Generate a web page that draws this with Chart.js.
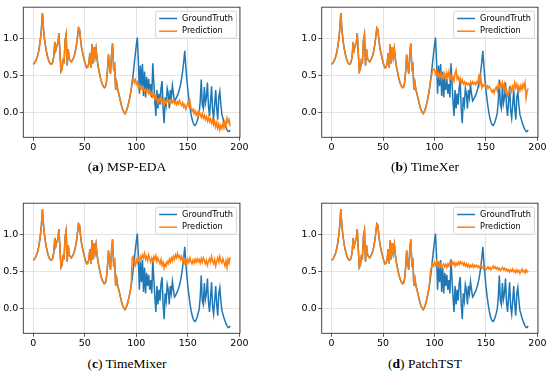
<!DOCTYPE html>
<html><head><meta charset="utf-8">
<script src="https://cdn.jsdelivr.net/npm/chart.js@4.4.1/dist/chart.umd.min.js"></script>
<style>
html,body{margin:0;padding:0;background:#fff;}
#wrap{position:relative;width:550px;height:374px;overflow:hidden;}
canvas{position:absolute;}
.cap{position:absolute;font-family:"Liberation Serif","Times New Roman",serif;font-size:13.5px;color:#000;white-space:nowrap;transform:translate(-50%,-50%);}
</style></head><body>
<div id="wrap">
<canvas id="ca" width="250" height="160" style="left:0;top:0"></canvas>
<canvas id="cb" width="250" height="160" style="left:298px;top:0"></canvas>
<canvas id="cc" width="250" height="160" style="left:0;top:196px"></canvas>
<canvas id="cd" width="250" height="160" style="left:298px;top:196px"></canvas>
<div class="cap" style="left:127px;top:167px">(<b>a</b>) MSP-EDA</div>
<div class="cap" style="left:425px;top:167px">(<b>b</b>) TimeXer</div>
<div class="cap" style="left:127px;top:364px">(<b>c</b>) TimeMixer</div>
<div class="cap" style="left:425px;top:364px">(<b>d</b>) PatchTST</div>
</div>
<script>
// ---- data ----
const seriesLabels = ['GroundTruth', 'Prediction'];
const panelTitles = ['MSP-EDA', 'TimeXer', 'TimeMixer', 'PatchTST'];
const xTicks = [0, 50, 100, 150, 200];
const yTicks = [0.0, 0.5, 1.0];
const historyLength = 96;

// ground truth, t = 0..191
const groundTruth = [
 0.65,0.66,0.68,0.71,0.75,0.80,0.88,0.98,1.12,1.34,
 1.13,0.99,0.89,0.81,0.75,0.70,0.67,0.65,0.65,0.68,
 0.75,0.95,0.84,0.90,0.93,1.07,0.80,0.55,0.58,0.70,
 0.68,0.97,1.05,0.63,0.85,0.72,0.70,0.68,0.70,0.73,
 0.77,0.83,0.91,1.02,1.14,1.12,0.98,0.87,0.80,0.74,
 0.68,0.63,0.60,0.61,0.66,0.80,0.60,0.92,0.66,0.88,
 0.75,0.86,0.72,0.62,0.55,0.48,0.42,0.38,0.35,0.33,
 0.34,0.40,0.55,0.78,0.62,0.52,0.78,0.93,0.60,0.64,
 0.30,0.40,0.30,0.25,0.19,0.13,0.07,0.03,0.00,-0.02,
 0.00,0.04,0.09,0.15,0.22,0.30,
 0.40,0.52,0.65,0.78,0.90,1.01,0.70,0.25,0.63,0.35,
 0.65,0.22,0.55,0.20,0.48,0.30,0.45,0.25,0.38,0.20,
 0.66,0.40,0.15,-0.05,0.30,0.05,0.25,0.10,0.33,0.42,
 0.05,-0.15,0.20,0.10,0.32,0.25,0.05,0.30,0.20,0.36,
 0.25,0.15,0.17,0.20,0.23,0.27,0.32,0.38,0.46,0.56,
 0.68,0.83,0.62,0.45,0.30,0.18,0.07,-0.02,-0.09,-0.14,
 -0.17,-0.18,-0.16,-0.12,-0.07,-0.01,0.15,0.44,0.10,0.05,
 0.34,0.12,0.20,0.40,0.08,-0.05,0.15,0.35,0.02,-0.08,
 0.10,0.30,0.05,-0.10,0.20,0.28,0.10,-0.03,-0.08,-0.13,
 -0.17,-0.21,-0.24,-0.26,-0.26,-0.24
];

// forecasts for t = 96..191
const predMSPEDA = [
 0.43,0.46,0.40,0.44,0.38,0.41,0.33,0.36,0.31,0.34,0.30,0.33,0.28,0.31,0.27,0.30,
 0.25,0.29,0.23,0.26,0.21,0.25,0.19,0.22,0.17,0.12,0.18,0.15,0.20,0.13,0.17,0.10,
 0.15,0.12,0.18,0.14,0.16,0.11,0.15,0.13,0.17,0.12,0.15,0.10,0.14,0.11,0.16,0.12,
 0.09,0.13,0.07,0.10,0.04,0.08,0.13,0.09,0.15,0.06,0.01,0.04,-0.02,0.02,-0.04,0.00,
 -0.05,0.01,-0.03,-0.07,-0.02,-0.08,-0.04,-0.10,-0.06,-0.12,-0.07,-0.13,-0.09,-0.15,-0.10,-0.17,
 -0.12,-0.20,-0.14,-0.22,-0.16,-0.24,-0.18,-0.22,-0.15,-0.21,-0.13,-0.18,-0.08,-0.14,-0.10,-0.19
];
const predTimeXer = [
 0.42,0.48,0.55,0.58,0.58,0.52,0.56,0.48,0.53,0.47,0.52,0.45,0.50,0.46,0.52,0.44,
 0.53,0.47,0.55,0.45,0.50,0.44,0.48,0.42,0.52,0.57,0.45,0.48,0.42,0.46,0.40,0.44,
 0.38,0.41,0.37,0.40,0.37,0.39,0.36,0.40,0.37,0.41,0.38,0.40,0.37,0.41,0.39,0.47,
 0.38,0.48,0.33,0.37,0.35,0.38,0.34,0.36,0.32,0.35,0.33,0.30,0.27,0.30,0.26,0.31,
 0.34,0.29,0.37,0.33,0.39,0.34,0.40,0.31,0.38,0.27,0.30,0.22,0.26,0.30,0.34,0.28,
 0.35,0.31,0.40,0.33,0.38,0.30,0.35,0.29,0.36,0.31,0.38,0.33,0.40,0.19,0.28,0.32
];
const predTimeMixer = [
 0.68,0.70,0.62,0.58,0.66,0.61,0.67,0.63,0.70,0.66,0.72,0.68,0.74,0.66,0.70,0.64,
 0.72,0.67,0.62,0.68,0.64,0.70,0.66,0.71,0.63,0.68,0.64,0.60,0.66,0.58,0.62,0.54,
 0.60,0.57,0.63,0.60,0.66,0.62,0.68,0.64,0.70,0.66,0.72,0.68,0.74,0.69,0.71,0.66,
 0.70,0.63,0.67,0.61,0.65,0.60,0.66,0.62,0.68,0.63,0.60,0.65,0.61,0.66,0.62,0.67,
 0.63,0.66,0.61,0.67,0.62,0.68,0.64,0.60,0.65,0.58,0.63,0.67,0.62,0.70,0.64,0.60,
 0.66,0.57,0.63,0.68,0.62,0.70,0.64,0.61,0.67,0.62,0.57,0.64,0.55,0.66,0.61,0.69
];
const predPatchTST = [
 0.48,0.55,0.60,0.57,0.62,0.58,0.63,0.56,0.60,0.55,0.59,0.54,0.58,0.60,0.56,0.59,
 0.55,0.60,0.57,0.62,0.58,0.63,0.59,0.62,0.57,0.61,0.58,0.62,0.59,0.63,0.60,0.62,
 0.58,0.61,0.57,0.60,0.56,0.59,0.55,0.58,0.56,0.59,0.55,0.58,0.56,0.58,0.55,0.57,
 0.55,0.58,0.54,0.56,0.53,0.55,0.52,0.54,0.56,0.53,0.55,0.52,0.54,0.57,0.54,0.56,
 0.53,0.55,0.52,0.54,0.51,0.53,0.55,0.52,0.54,0.51,0.53,0.50,0.52,0.49,0.52,0.50,
 0.53,0.49,0.51,0.48,0.52,0.49,0.51,0.47,0.50,0.53,0.49,0.51,0.48,0.52,0.49,0.51
];

// ---- build ----
const forecasts = [predMSPEDA, predTimeXer, predTimeMixer, predPatchTST];
const canvases = ['ca', 'cb', 'cc', 'cd'];
const toPoints = arr => arr.map((v, i) => ({x: i, y: v}));

const allVals = groundTruth.concat(...forecasts);
const dMin = Math.min(...allVals), dMax = Math.max(...allVals);
const yMin = dMin - 0.05 * (dMax - dMin), yMax = dMax + 0.05 * (dMax - dMin);
const xMin = -0.05 * (groundTruth.length - 1), xMax = (groundTruth.length - 1) * 1.05;

const BLUE = '#1f77b4', ORANGE = '#ff7f0e';
const tickFont = {family: 'DejaVu Sans', size: 9.5};

const framePlugin = {
  id: 'frame',
  afterDraw(chart) {
    const {ctx, chartArea: a} = chart;
    ctx.save();
    ctx.strokeStyle = '#333';
    ctx.lineWidth = 0.9;
    ctx.strokeRect(a.left, a.top, a.right - a.left, a.bottom - a.top);
    // legend inside upper right
    const fs = 8.2;
    ctx.font = fs + 'px "DejaVu Sans"';
    const ds = chart.data.datasets;
    const tw = Math.max(...ds.map(d => ctx.measureText(d.label).width));
    const rowH = 12.7, padX = 3.5, lineLen = 18, gap = 5;
    const w = padX + lineLen + gap + tw + padX;
    const h = ds.length * rowH + 1.6;
    const x0 = a.right - 3.5 - w, y0 = a.top + 4;
    ctx.fillStyle = 'rgba(255,255,255,0.85)';
    ctx.strokeStyle = '#cccccc';
    ctx.lineWidth = 0.8;
    ctx.beginPath();
    if (ctx.roundRect) ctx.roundRect(x0, y0, w, h, 2); else ctx.rect(x0, y0, w, h);
    ctx.fill(); ctx.stroke();
    ds.forEach((d, i) => {
      const cy = y0 + 7.3 + i * rowH;
      ctx.strokeStyle = d.borderColor;
      ctx.lineWidth = 1.5;
      ctx.beginPath();
      ctx.moveTo(x0 + padX, cy); ctx.lineTo(x0 + padX + lineLen, cy);
      ctx.stroke();
      ctx.fillStyle = '#000';
      ctx.textBaseline = 'middle';
      ctx.textAlign = 'left';
      ctx.fillText(d.label, x0 + padX + lineLen + gap, cy);
    });
    ctx.restore();
  }
};

canvases.forEach((id, k) => {
  const pred = groundTruth.slice(0, historyLength).concat(forecasts[k]);
  new Chart(document.getElementById(id), {
    type: 'line',
    data: {
      datasets: [
        {label: seriesLabels[0], data: toPoints(groundTruth), borderColor: BLUE, borderWidth: 1.5, pointRadius: 0, tension: 0, order: 1},
        {label: seriesLabels[1], data: toPoints(pred), borderColor: ORANGE, borderWidth: 1.5, pointRadius: 0, tension: 0, order: 0}
      ]
    },
    options: {
      responsive: false,
      animation: false,
      devicePixelRatio: 1,
      layout: {padding: {top: 6, right: k % 2 ? 9 : 9.3, left: 0, bottom: 0}},
      plugins: {legend: {display: false}, tooltip: {enabled: false}},
      scales: {
        x: {
          type: 'linear', min: xMin, max: xMax,
          afterBuildTicks: s => { s.ticks = xTicks.map(v => ({value: v})); },
          afterFit: s => { s.height = 22.7; },
          ticks: {font: tickFont, color: '#000', padding: 1.5, maxRotation: 0, autoSkip: false,
                  callback: v => String(v)},
          grid: {color: '#dcdcdc', lineWidth: 0.8, tickColor: '#333', tickLength: 3.5},
          border: {display: false}
        },
        y: {
          type: 'linear', min: yMin, max: yMax,
          afterBuildTicks: s => { s.ticks = yTicks.map(v => ({value: v})); },
          afterFit: s => { s.width = k % 2 ? 23.7 : 23.3; },
          ticks: {font: tickFont, color: '#000', padding: 1.5, callback: v => Number(v).toFixed(1)},
          grid: {color: '#dcdcdc', lineWidth: 0.8, tickColor: '#333', tickLength: 3.5},
          border: {display: false}
        }
      }
    },
    plugins: [framePlugin]
  });
});
</script>
</body></html>
